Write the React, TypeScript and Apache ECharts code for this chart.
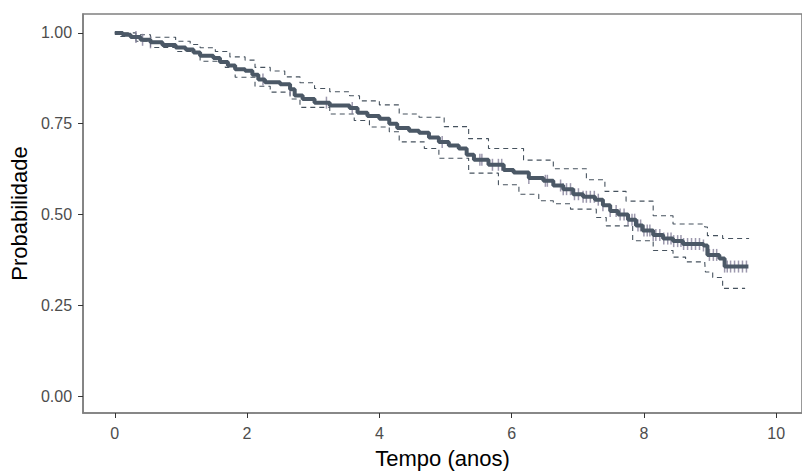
import React, { useEffect, useRef } from "react";
import * as echarts from "echarts";

// Kaplan-Meier estimate (step times in years, survival probability)
const survTimes = [0, 0.12, 0.24, 0.39, 0.54, 0.72, 0.92, 1.07, 1.19, 1.29, 1.49, 1.59, 1.71, 1.82, 1.97, 2.08, 2.17, 2.27, 2.5, 2.65, 2.72, 2.84, 3.02, 3.25, 3.55, 3.67, 3.82, 4.0, 4.15, 4.27, 4.45, 4.6, 4.75, 4.9, 5.05, 5.2, 5.32, 5.43, 5.65, 5.88, 6.03, 6.26, 6.48, 6.63, 6.78, 6.93, 7.08, 7.26, 7.38, 7.49, 7.61, 7.76, 7.88, 7.98, 8.14, 8.29, 8.44, 8.59, 8.9, 8.96, 9.14, 9.22, 9.58];
const survValues = [1.0, 0.995, 0.989, 0.981, 0.974, 0.967, 0.96, 0.954, 0.946, 0.937, 0.931, 0.92, 0.91, 0.9, 0.896, 0.885, 0.872, 0.864, 0.859, 0.845, 0.828, 0.818, 0.808, 0.8, 0.793, 0.78, 0.771, 0.764, 0.75, 0.738, 0.731, 0.725, 0.712, 0.7, 0.69, 0.682, 0.665, 0.651, 0.637, 0.623, 0.616, 0.601, 0.593, 0.58, 0.57, 0.556, 0.549, 0.541, 0.526, 0.51, 0.5, 0.486, 0.47, 0.456, 0.444, 0.434, 0.427, 0.419, 0.415, 0.389, 0.379, 0.357, 0.357];

// Upper confidence limit
const upperTimes = [0, 0.32, 0.54, 0.92, 1.14, 1.29, 1.52, 1.74, 1.97, 2.12, 2.35, 2.57, 2.8, 3.02, 3.25, 3.55, 3.7, 4.0, 4.3, 4.6, 4.98, 5.35, 5.65, 6.18, 6.63, 7.13, 7.41, 7.73, 8.14, 8.44, 8.92, 8.96, 9.19, 9.59];
const upperValues = [1.0, 0.995, 0.988, 0.977, 0.968, 0.959, 0.949, 0.934, 0.925, 0.905, 0.895, 0.879, 0.863, 0.847, 0.838, 0.827, 0.813, 0.802, 0.777, 0.768, 0.742, 0.709, 0.682, 0.65, 0.626, 0.596, 0.564, 0.537, 0.497, 0.474, 0.466, 0.442, 0.434, 0.434];

// Lower confidence limit
const lowerTimes = [0, 0.09, 0.32, 0.54, 0.92, 1.29, 1.67, 1.82, 2.12, 2.35, 2.65, 2.8, 3.25, 3.62, 3.85, 4.15, 4.3, 4.68, 4.9, 5.35, 5.8, 6.11, 6.41, 6.63, 6.89, 7.28, 7.43, 7.83, 8.14, 8.44, 8.63, 8.92, 8.93, 9.04, 9.19, 9.53];
const lowerValues = [1.0, 0.99, 0.977, 0.96, 0.949, 0.922, 0.905, 0.878, 0.853, 0.837, 0.818, 0.795, 0.777, 0.759, 0.741, 0.728, 0.7, 0.682, 0.655, 0.614, 0.582, 0.556, 0.538, 0.53, 0.515, 0.492, 0.469, 0.428, 0.401, 0.383, 0.37, 0.367, 0.342, 0.327, 0.297, 0.297];

// Censoring times (years)
const censorTimes = [0.32, 0.42, 0.54, 2.24, 2.65, 3.2, 3.59, 4.95, 5.52, 5.55, 5.71, 5.8, 5.85, 6.26, 6.51, 6.54, 6.74, 6.78, 6.83, 6.89, 6.95, 7.01, 7.08, 7.13, 7.19, 7.25, 7.31, 7.38, 7.49, 7.58, 7.64, 7.7, 7.76, 7.82, 7.86, 7.91, 7.95, 8.0, 8.05, 8.09, 8.14, 8.18, 8.24, 8.3, 8.36, 8.41, 8.45, 8.51, 8.56, 8.6, 8.66, 8.72, 8.78, 8.84, 8.9, 8.99, 9.05, 9.1, 9.22, 9.26, 9.31, 9.37, 9.43, 9.49, 9.55];

const xTicks = [0, 2, 4, 6, 8, 10];
const yTicks = [0, 0.25, 0.5, 0.75, 1];

function survAt(t: number): number {
  let v = survValues[0];
  for (let i = 0; i < survTimes.length; i++) {
    if (survTimes[i] <= t) v = survValues[i];
    else break;
  }
  return v;
}

const pairs = (xs: number[], ys: number[]) => xs.map((x, i) => [x, ys[i]]);

export default function App() {
  const ref = useRef<HTMLDivElement>(null);
  useEffect(() => {
    if (!ref.current) return;
    const chart = echarts.init(ref.current, null, { renderer: "svg" });
    const lineColor = "#4b5866";
    const font = "Arial, 'Liberation Sans', sans-serif";
    chart.setOption({
      animation: false,
      backgroundColor: "#ffffff",
      grid: {
        left: 82,
        right: -3,
        top: 14,
        bottom: 56,
        show: true,
        borderColor: "#808080",
        borderWidth: 1.6,
        backgroundColor: "transparent",
      },
      xAxis: {
        type: "value",
        min: -0.48,
        max: 10.39,
        name: "Tempo (anos)",
        nameLocation: "middle",
        nameGap: 34,
        nameTextStyle: { color: "#000000", fontSize: 22, fontFamily: font },
        axisLine: { show: true, onZero: false, lineStyle: { color: "#808080", width: 1.6 } },
        axisTick: { show: true, length: 5, lineStyle: { color: "#333333", width: 1 }, customValues: xTicks },
        axisLabel: { color: "#4d4d4d", fontSize: 16, fontFamily: font, margin: 12, customValues: xTicks },
        splitLine: { show: false },
      },
      yAxis: {
        type: "value",
        min: -0.046,
        max: 1.052,
        name: "Probabilidade",
        nameLocation: "middle",
        nameGap: 51,
        nameTextStyle: { color: "#000000", fontSize: 22, fontFamily: font },
        axisLine: { show: true, onZero: false, lineStyle: { color: "#808080", width: 1.6 } },
        axisTick: { show: true, length: 5, lineStyle: { color: "#333333", width: 1 }, customValues: yTicks },
        axisLabel: {
          color: "#4d4d4d",
          fontSize: 16,
          fontFamily: font,
          margin: 11,
          customValues: yTicks,
          formatter: (v: number) => v.toFixed(2),
        },
        splitLine: { show: false },
      },
      series: [
        {
          type: "line",
          step: "end",
          data: pairs(upperTimes, upperValues),
          showSymbol: false,
          lineStyle: { color: "#46525e", width: 1.1, type: [5, 4] },
          z: 2,
        },
        {
          type: "line",
          step: "end",
          data: pairs(lowerTimes, lowerValues),
          showSymbol: false,
          lineStyle: { color: "#46525e", width: 1.1, type: [5, 4] },
          z: 2,
        },
        {
          type: "scatter",
          data: censorTimes.map((t) => [t, survAt(t)]),
          symbol: "rect",
          symbolSize: [1.5, 12],
          itemStyle: { color: "#85809a" },
          z: 3,
        },
        {
          type: "line",
          step: "end",
          data: pairs(survTimes, survValues),
          showSymbol: false,
          lineStyle: { color: lineColor, width: 4 },
          z: 4,
        },
      ],
    });
    return () => chart.dispose();
  }, []);
  return <div ref={ref} style={{ width: 802, height: 474, position: "absolute", left: 0, top: 0 }} />;
}
